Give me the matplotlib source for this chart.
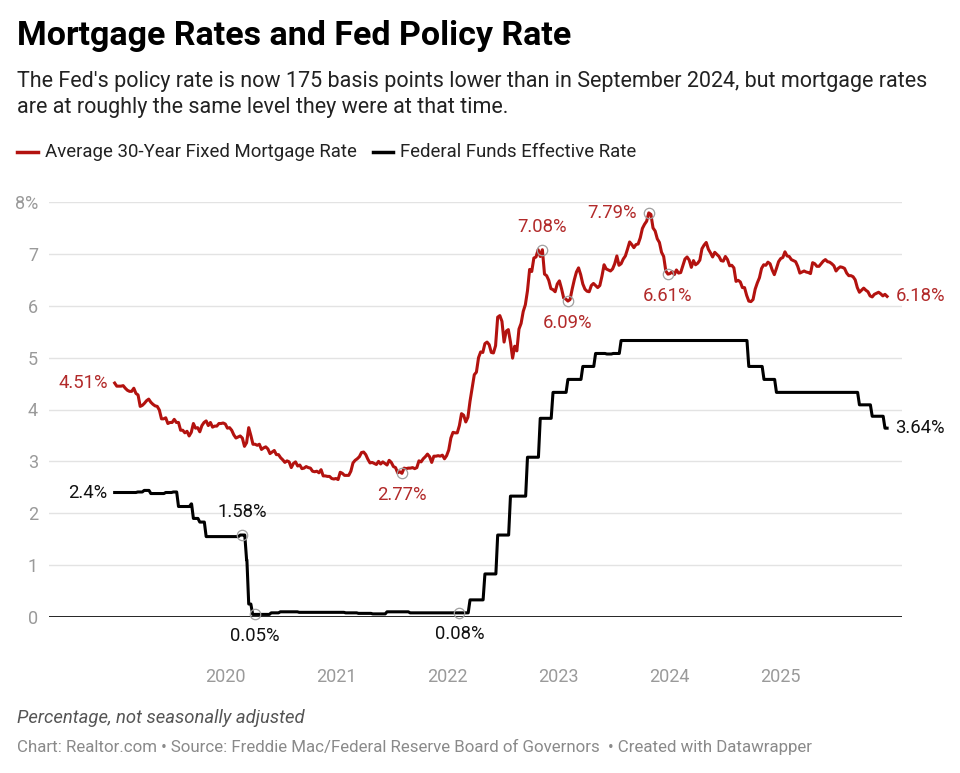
import matplotlib
matplotlib.use("Agg")
import matplotlib.pyplot as plt
import matplotlib.dates as mdates
from matplotlib.lines import Line2D
import pandas as pd

plt.rcParams['font.family'] = ['Roboto', 'DejaVu Sans']

# Freddie Mac 30-year fixed, weekly (Thursdays) from 2019-01-03
mortgage_2019 = [4.51, 4.45, 4.45, 4.45, 4.46, 4.41, 4.37, 4.35, 4.35, 4.41, 4.31, 4.28, 4.06,
                 4.08, 4.12, 4.17, 4.20, 4.14, 4.10, 4.07, 4.06, 3.99, 3.82, 3.82, 3.84, 3.73,
                 3.75, 3.75, 3.81, 3.75, 3.75, 3.60, 3.60, 3.55, 3.58, 3.49, 3.56, 3.73, 3.64,
                 3.65, 3.57, 3.69, 3.75, 3.78, 3.69, 3.75, 3.66, 3.68, 3.68, 3.73, 3.73, 3.74]
mortgage_2020 = [3.72, 3.64, 3.65, 3.60, 3.51, 3.45, 3.47, 3.49, 3.45, 3.29, 3.36, 3.65, 3.50,
                 3.33, 3.33, 3.31, 3.33, 3.23, 3.26, 3.28, 3.24, 3.15, 3.18, 3.21, 3.13, 3.13,
                 3.07, 3.03, 2.98, 3.01, 2.99, 2.88, 2.96, 2.99, 2.91, 2.93, 2.86, 2.87, 2.90,
                 2.88, 2.87, 2.81, 2.80, 2.81, 2.78, 2.84, 2.72, 2.72, 2.71, 2.71, 2.67, 2.66, 2.67]
mortgage_2021 = [2.65, 2.79, 2.77, 2.73, 2.73, 2.73, 2.81, 2.97, 3.02, 3.05, 3.09, 3.17,
                 3.18, 3.13, 3.04, 2.97, 2.98, 2.96, 2.94, 3.00, 2.95, 2.99, 2.96, 2.93, 3.02,
                 2.98, 2.90, 2.88, 2.78, 2.80, 2.77, 2.87, 2.86, 2.87, 2.87, 2.88, 2.86, 2.88,
                 3.01, 2.99, 3.05, 3.09, 3.14, 3.09, 2.98, 3.10, 3.10, 3.11, 3.10, 3.12, 3.05, 3.11]
mortgage_2022 = [3.22, 3.45, 3.56, 3.55, 3.55, 3.69, 3.92, 3.89, 3.76, 3.85, 4.16, 4.42, 4.67,
                 4.72, 5.00, 5.11, 5.10, 5.27, 5.30, 5.25, 5.10, 5.09, 5.23, 5.78, 5.81, 5.70,
                 5.30, 5.51, 5.54, 5.30, 4.99, 5.22, 5.13, 5.55, 5.66, 5.89, 6.02, 6.29, 6.70,
                 6.66, 6.92, 6.94, 7.08, 6.95, 7.08, 6.61, 6.58, 6.49, 6.33, 6.31, 6.27, 6.42]
mortgage_2023 = [6.48, 6.33, 6.15, 6.13, 6.09, 6.12, 6.32, 6.50, 6.65, 6.73, 6.60, 6.42, 6.32,
                 6.28, 6.27, 6.39, 6.43, 6.39, 6.35, 6.39, 6.57, 6.79, 6.71, 6.69, 6.67, 6.71,
                 6.81, 6.96, 6.78, 6.81, 6.90, 6.96, 7.09, 7.23, 7.18, 7.12, 7.18, 7.19, 7.31,
                 7.49, 7.57, 7.63, 7.79, 7.76, 7.50, 7.44, 7.29, 7.22, 7.03, 6.95, 6.67, 6.61]
mortgage_2024 = [6.62, 6.66, 6.60, 6.69, 6.63, 6.64, 6.77, 6.90, 6.94, 6.88, 6.74, 6.87, 6.79,
                 6.82, 6.88, 7.10, 7.17, 7.22, 7.09, 7.02, 6.94, 7.03, 6.99, 6.95, 6.87, 6.86,
                 6.95, 6.89, 6.77, 6.78, 6.73, 6.47, 6.49, 6.46, 6.35, 6.35, 6.20, 6.09, 6.08,
                 6.12, 6.32, 6.44, 6.54, 6.72, 6.79, 6.78, 6.84, 6.81, 6.69, 6.60, 6.72, 6.85]
mortgage_2025 = [6.91, 6.93, 7.04, 6.96, 6.95, 6.89, 6.87, 6.85, 6.76, 6.63, 6.65, 6.67, 6.65,
                 6.64, 6.62, 6.83, 6.81, 6.76, 6.76, 6.81, 6.86, 6.89, 6.85, 6.84, 6.81, 6.77,
                 6.67, 6.72, 6.75, 6.74, 6.72, 6.63, 6.58, 6.58, 6.56, 6.50, 6.35, 6.26, 6.30,
                 6.34, 6.30, 6.27, 6.19, 6.17, 6.22, 6.24, 6.26, 6.23, 6.19, 6.22, 6.18]

mortgage = (mortgage_2019 + mortgage_2020 + mortgage_2021 + mortgage_2022 +
            mortgage_2023 + mortgage_2024 + mortgage_2025)
mortgage_dates = pd.date_range("2019-01-03", periods=len(mortgage), freq="7D")

# Federal funds effective rate, level changes (weekly averages)
fed_dates = ["2019-01-03", "2019-03-20", "2019-04-10", "2019-05-02", "2019-06-20", "2019-07-15",
             "2019-08-01", "2019-09-12", "2019-09-19", "2019-10-10", "2019-10-31", "2020-02-20",
             "2020-03-04", "2020-03-12", "2020-03-19", "2020-04-01", "2020-06-01", "2020-07-01",
             "2020-09-01", "2021-02-01", "2021-03-15", "2021-05-01", "2021-06-17", "2021-09-01",
             "2022-03-17", "2022-05-05", "2022-06-16", "2022-07-28", "2022-09-22", "2022-11-03",
             "2022-12-15", "2023-02-02", "2023-03-23", "2023-05-04", "2023-06-10", "2023-07-01",
             "2023-07-27", "2024-09-19", "2024-11-08", "2024-12-19", "2025-09-18", "2025-10-30",
             "2025-12-11", "2025-12-18"]
fed_values = [2.40, 2.41, 2.44, 2.38, 2.40, 2.41,
              2.13, 2.18, 1.90, 1.83, 1.55, 1.58,
              1.58, 1.10, 0.25, 0.05, 0.08, 0.10,
              0.09, 0.08, 0.07, 0.06, 0.10, 0.08,
              0.33, 0.83, 1.58, 2.33, 3.08, 3.83,
              4.33, 4.58, 4.83, 5.08, 5.07, 5.08,
              5.33, 4.83, 4.58, 4.33, 4.09, 3.87,
              3.64, 3.64]
fed_dates = pd.to_datetime(fed_dates)

# weekly averaging makes each move span about a week: hold old level until 6 days before
fed_x, fed_y = [fed_dates[0]], [fed_values[0]]
for i in range(1, len(fed_dates)):
    hold = fed_dates[i] - pd.Timedelta(days=6)
    if hold > fed_x[-1]:
        fed_x.append(hold)
        fed_y.append(fed_values[i - 1])
    fed_x.append(fed_dates[i])
    fed_y.append(fed_values[i])

red = "#b3120f"
red_text = "#b22a2a"
grid = "#e3e3e3"
tick_gray = "#9a9a9a"
fs = 13.3

fig = plt.figure(figsize=(9.6, 7.73), dpi=100)
W, H = 960, 773
ax = fig.add_axes([49 / W, 1 - 617 / H, (902 - 49) / W, (617 - 202) / H])

ax.plot(mortgage_dates, mortgage, color=red, lw=2.2, solid_joinstyle="round", zorder=3, clip_on=False)
ax.plot(fed_x, fed_y, color="black", lw=2.2, solid_joinstyle="round", zorder=3, clip_on=False)

ax.set_ylim(0, 8)
ax.set_xlim(pd.Timestamp("2018-06-01"), pd.Timestamp("2026-02-05"))
for v in range(1, 9):
    ax.axhline(v, color=grid, lw=1, zorder=1)
ax.axhline(0, color="black", lw=1.2, zorder=2)
for s in ax.spines.values():
    s.set_visible(False)

ax.set_yticks(range(0, 9))
ax.set_yticklabels(["0", "1", "2", "3", "4", "5", "6", "7", "8%"])
ax.set_xticks(pd.to_datetime(["2020-01-01", "2021-01-01", "2022-01-01", "2023-01-01",
                              "2024-01-01", "2025-01-01"]))
ax.xaxis.set_major_formatter(mdates.DateFormatter("%Y"))
ax.tick_params(axis="both", length=0, labelsize=13, labelcolor=tick_gray)
ax.tick_params(axis="y", pad=8)
ax.tick_params(axis="x", pad=37)

# annotated points
mortgage_marks = [("2022-11-10", 7.08, "7.08%", "above"), ("2023-02-02", 6.09, "6.09%", "below"),
                  ("2023-10-26", 7.79, "7.79%", "left"), ("2023-12-28", 6.61, "6.61%", "below"),
                  ("2021-08-05", 2.77, "2.77%", "below")]
fed_marks = [("2020-02-27", 1.58, "1.58%", "above"), ("2020-04-08", 0.05, "0.05%", "below"),
             ("2022-02-10", 0.08, "0.08%", "below")]

def mark(date, val, label, where, color):
    d = pd.Timestamp(date)
    ax.plot([d], [val], marker="o", ms=7.5, mfc="none", mec="#a0a0a0", mew=0.9, zorder=4, clip_on=False)
    if where == "above":
        ax.annotate(label, (d, val), xytext=(0, 10), textcoords="offset points",
                    ha="center", va="bottom", fontsize=fs, color=color)
    elif where == "below":
        ax.annotate(label, (d, val), xytext=(0, -9), textcoords="offset points",
                    ha="center", va="top", fontsize=fs, color=color)
    else:
        ax.annotate(label, (d, val), xytext=(-9, 0), textcoords="offset points",
                    ha="right", va="center", fontsize=fs, color=color)

for d, v, l, w in mortgage_marks:
    mark(d, v, l, w, red_text)
for d, v, l, w in fed_marks:
    mark(d, v, l, w, "#111111")

# start / end labels
ax.annotate("4.51%", (mortgage_dates[0], mortgage[0]), xytext=(-5, 0), textcoords="offset points",
            ha="right", va="center", fontsize=fs, color=red_text)
ax.annotate("6.18%", (mortgage_dates[-1], mortgage[-1]), xytext=(6, 0), textcoords="offset points",
            ha="left", va="center", fontsize=fs, color=red_text)
ax.annotate("2.4%", (fed_dates[0], fed_values[0]), xytext=(-5, 0), textcoords="offset points",
            ha="right", va="center", fontsize=fs, color="#111111")
ax.annotate("3.64%", (fed_dates[-1], fed_values[-1]), xytext=(6, 0), textcoords="offset points",
            ha="left", va="center", fontsize=fs, color="#111111")

# title, subtitle
fig.text(17 / W, 1 - 36 / H, "Mortgage Rates and Fed Policy Rate", fontsize=24.5, fontweight="bold",
         color="black", va="center", ha="left")
fig.text(17 / W, 1 - 82 / H, "The Fed's policy rate is now 175 basis points lower than in September 2024, but mortgage rates",
         fontsize=15.5, color="#222222", va="center", ha="left")
fig.text(17 / W, 1 - 108 / H, "are at roughly the same level they were at that time.",
         fontsize=15.5, color="#222222", va="center", ha="left")

# legend
fig.add_artist(Line2D([17 / W, 38 / W], [1 - 152 / H] * 2, color=red, lw=2.5))
fig.text(45 / W, 1 - 152 / H, "Average 30-Year Fixed Mortgage Rate", fontsize=13.4, color="#222222",
         va="center", ha="left")
fig.add_artist(Line2D([373 / W, 393 / W], [1 - 152 / H] * 2, color="black", lw=2.5))
fig.text(400 / W, 1 - 152 / H, "Federal Funds Effective Rate", fontsize=13.4, color="#222222",
         va="center", ha="left")

# footer
fig.text(17 / W, 1 - 718 / H, "Percentage, not seasonally adjusted", fontsize=13.3, style="italic",
         color="#555555", va="center", ha="left")
fig.text(17 / W, 1 - 747 / H,
         "Chart: Realtor.com \u2022 Source: Freddie Mac/Federal Reserve Board of Governors  \u2022 Created with Datawrapper",
         fontsize=12.15, color="#8a8a8a", va="center", ha="left")

fig.savefig("out.png", dpi=100, facecolor="white")
